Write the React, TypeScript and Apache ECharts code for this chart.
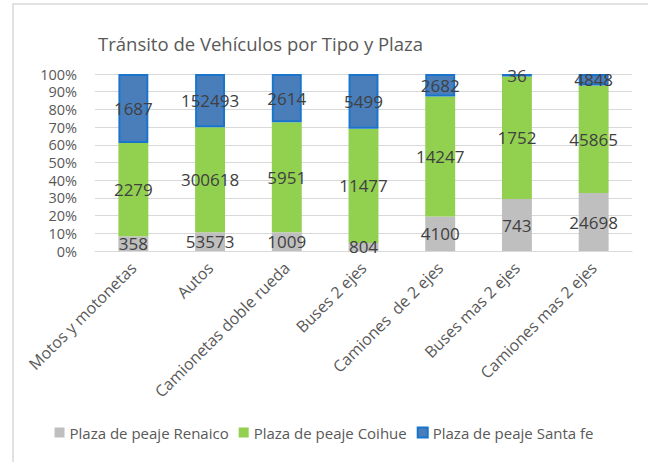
import React, { useEffect, useRef } from "react";
import * as echarts from "echarts";

const categories = [
  "Motos y motonetas",
  "Autos",
  "Camionetas doble rueda",
  "Buses 2 ejes",
  "Camiones  de 2 ejes",
  "Buses mas 2 ejes",
  "Camiones mas 2 ejes",
];
const renaico = [358, 53573, 1009, 804, 4100, 743, 24698];
const coihue = [2279, 300618, 5951, 11477, 14247, 1752, 45865];
const santaFe = [1687, 152493, 2614, 5499, 2682, 36, 4848];
const seriesNames = ["Plaza de peaje Renaico", "Plaza de peaje Coihue", "Plaza de peaje Santa fe"];
const yTicks = [0, 10, 20, 30, 40, 50, 60, 70, 80, 90, 100];

const FONT = "Open Sans";

export default function App() {
  const ref = useRef<HTMLDivElement>(null);
  useEffect(() => {
    if (!ref.current) return;
    const chart = echarts.init(ref.current, undefined, { renderer: "svg" });
    const totals = categories.map((_, i) => renaico[i] + coihue[i] + santaFe[i]);
    const pct = (arr: number[]) => arr.map((v, i) => ({ value: (v / totals[i]) * 100, raw: v }));
    const label = {
      show: true,
      position: "inside" as const,
      color: "#404040",
      fontSize: 17,
      fontFamily: FONT,
      formatter: (p: any) => String(p.data.raw),
    };
    const styles = [
      { color: "#bfbfbf" },
      { color: "#92d050" },
      { color: "#4a7ebb", borderColor: "#1874cd", borderWidth: 2 },
    ];
    const datas = [renaico, coihue, santaFe];
    chart.setOption({
      animation: false,
      textStyle: { fontFamily: FONT },
      title: {
        text: "Tránsito de Vehículos por Tipo y Plaza",
        left: 93,
        top: 29,
        textStyle: { color: "#595959", fontSize: 18.5, fontWeight: "normal", fontFamily: FONT },
      },
      legend: {
        bottom: 17,
        left: "center",
        itemWidth: 10,
        itemHeight: 10,
        itemGap: 10,
        icon: "rect",
        textStyle: { color: "#595959", fontSize: 15, fontFamily: FONT },
        data: seriesNames,
      },
      graphic: [
        {
          type: "rect",
          shape: { x: 13, y: 4, width: 700, height: 520 },
          style: { fill: "none", stroke: "#d9d9d9", lineWidth: 1.5 },
          silent: true,
        },
      ],
      grid: { left: 95, right: 16, top: 74, bottom: 211, containLabel: false },
      xAxis: {
        type: "category",
        data: categories,
        axisLine: { lineStyle: { color: "#d9d9d9" } },
        axisTick: { show: false },
        axisLabel: { rotate: 45, color: "#595959", fontSize: 16, fontFamily: FONT, interval: 0, margin: 14 },
      },
      yAxis: {
        type: "value",
        min: 0,
        max: 100,
        interval: 10,
        axisLine: { show: false },
        axisTick: { show: false },
        splitLine: { lineStyle: { color: "#d9d9d9" } },
        axisLabel: {
          color: "#595959",
          fontSize: 14.5,
          lineHeight: 15,
          fontFamily: FONT,
          margin: 18,
          formatter: (v: number) => (yTicks.includes(v) ? v + "%" : ""),
        },
      },
      series: datas.map((d, k) => ({
        name: seriesNames[k],
        type: "bar",
        stack: "total",
        barWidth: "39%",
        itemStyle: styles[k],
        label,
        data: pct(d),
      })),
    });
    return () => chart.dispose();
  }, []);
  return (
    <div
      ref={ref}
      style={{ position: "fixed", left: 0, top: 0, width: 648, height: 462, background: "#fff" }}
    />
  );
}
